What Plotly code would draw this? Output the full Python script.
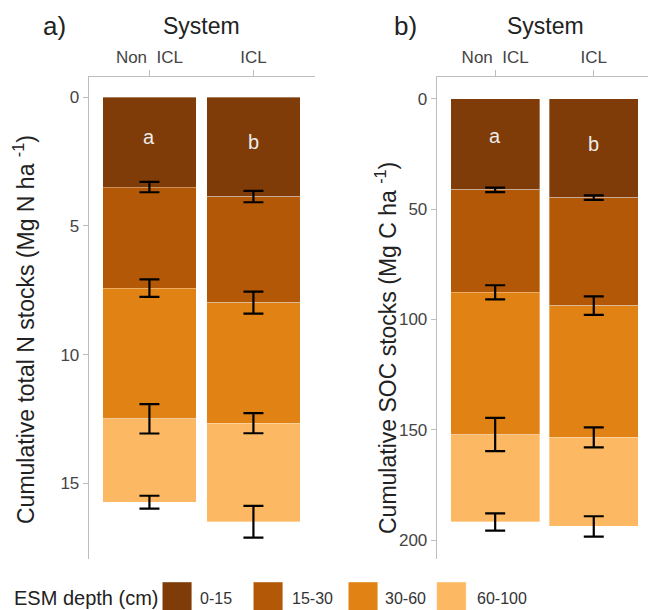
import numpy as np
import plotly.graph_objects as go

W, H = 648, 610

systems = ["Non ICL", "ICL"]
system_ticktext = ["Non\u00a0\u00a0ICL", "ICL"]
depths = ["0-15", "15-30", "30-60", "60-100"]
depth_colors = ["#7f3b08", "#b35806", "#e08214", "#fdb863"]

# Cumulative stocks at the bottom of each layer
n_cum_nonicl = [3.49, 7.42, 12.50, 15.74]
n_cum_icl = [3.86, 7.98, 12.67, 16.50]
n_err_nonicl = [0.20, 0.34, 0.57, 0.25]
n_err_icl = [0.22, 0.43, 0.39, 0.62]

c_cum_nonicl = [41.3, 87.7, 152.1, 191.7]
c_cum_icl = [44.8, 93.7, 153.4, 193.7]
c_err_nonicl = [1.0, 3.2, 7.5, 3.9]
c_err_icl = [1.0, 4.2, 4.5, 4.6]

letters = ["a", "b"]

FONT = "Liberation Sans, Arial, sans-serif"
AXIS_GRAY = "#bdbdbd"
TICK_TXT = "#444444"


def px_x(p):
    return p / W


def px_y(p):
    return 1 - p / H


fig = go.Figure()


def add_panel(cum_a, cum_b, err_a, err_b, xa, ya):
    inc_a = np.diff([0] + cum_a)
    inc_b = np.diff([0] + cum_b)
    for i, d in enumerate(depths):
        fig.add_trace(go.Bar(
            x=systems, y=[inc_a[i], inc_b[i]], name=d,
            marker=dict(color=depth_colors[i],
                        line=dict(color="rgba(255,255,255,0.35)", width=1)),
            width=0.9,
            xaxis=xa, yaxis=ya, showlegend=False, hoverinfo="skip"))
    # error bars drawn on top at the cumulative layer boundaries
    for i in range(len(depths)):
        fig.add_trace(go.Scatter(
            x=systems, y=[cum_a[i], cum_b[i]], mode="markers",
            marker=dict(size=1, opacity=0),
            error_y=dict(type="data", array=[err_a[i], err_b[i]],
                         visible=True, color="black", thickness=2.2, width=10),
            xaxis=xa, yaxis=ya, showlegend=False, hoverinfo="skip"))


add_panel(n_cum_nonicl, n_cum_icl, n_err_nonicl, n_err_icl, "x", "y")
add_panel(c_cum_nonicl, c_cum_icl, c_err_nonicl, c_err_icl, "x2", "y2")

ydom = [px_y(559.3), px_y(77)]

xcommon = dict(side="top", showline=True, linecolor=AXIS_GRAY, linewidth=1,
               ticks="outside", ticklen=6, tickcolor=AXIS_GRAY,
               tickfont=dict(size=17, color=TICK_TXT, family=FONT),
               tickvals=systems, ticktext=system_ticktext, showgrid=False,
               zeroline=False, type="category")
ycommon = dict(showline=True, linecolor=AXIS_GRAY, linewidth=1,
               ticks="outside", ticklen=5, tickcolor=AXIS_GRAY,
               tickfont=dict(size=17, color=TICK_TXT, family=FONT),
               showgrid=False, zeroline=False, domain=ydom)

fig.update_layout(
    width=W, height=H, barmode="stack",
    margin=dict(l=0, r=0, t=0, b=0),
    paper_bgcolor="white", plot_bgcolor="white",
    font=dict(family=FONT, color="#222222"),
    xaxis=dict(domain=[px_x(88.7), px_x(315)], range=[-0.584, 1.592],
               anchor="y", **xcommon),
    yaxis=dict(range=[17.96, -0.79], tickvals=[0, 5, 10, 15], anchor="x",
               **ycommon),
    xaxis2=dict(domain=[px_x(436.7), 1.0], range=[-0.593, 1.55],
                anchor="y2", **xcommon),
    yaxis2=dict(range=[208.6, -9.8], tickvals=[0, 50, 100, 150, 200],
                anchor="x2", **ycommon),
)

ann = []
# panel letters
ann.append(dict(text="a)", x=px_x(54), y=px_y(26), xref="paper", yref="paper",
                showarrow=False, font=dict(size=26, color="#222"),
                xanchor="center", yanchor="middle"))
ann.append(dict(text="b)", x=px_x(405), y=px_y(26), xref="paper", yref="paper",
                showarrow=False, font=dict(size=26, color="#222"),
                xanchor="center", yanchor="middle"))
# System titles
for cx in (201, 545):
    ann.append(dict(text="System", x=px_x(cx), y=px_y(26), xref="paper",
                    yref="paper", showarrow=False,
                    font=dict(size=23, color="#222"),
                    xanchor="center", yanchor="middle"))
# y titles
ann.append(dict(text="Cumulative total N stocks (Mg N ha <sup>-1</sup>)",
                x=px_x(24), y=px_y(330), xref="paper", yref="paper",
                textangle=-90, showarrow=False,
                font=dict(size=23, color="#222"),
                xanchor="center", yanchor="middle"))
ann.append(dict(text="Cumulative SOC stocks (Mg C ha <sup>-1</sup>)",
                x=px_x(386), y=px_y(348), xref="paper", yref="paper",
                textangle=-90, showarrow=False,
                font=dict(size=23, color="#222"),
                xanchor="center", yanchor="middle"))
# significance letters
for xa, ya, ys in (("x", "y", [1.55, 1.75]), ("x2", "y2", [17.1, 20.6])):
    for i, s in enumerate(systems):
        ann.append(dict(text=letters[i], x=s, y=ys[i], xref=xa, yref=ya,
                        showarrow=False, font=dict(size=20, color="#ececec"),
                        xanchor="center", yanchor="middle"))

# legend (manual)
ann.append(dict(text="ESM depth (cm)", x=px_x(12), y=px_y(598), xref="paper",
                yref="paper", showarrow=False, xanchor="left",
                yanchor="middle", font=dict(size=20, color="#222")))
sw_x = [162.3, 253.3, 348.3, 436.7]
lab_x = [198, 290, 383, 475]
shapes = []
for i, d in enumerate(depths):
    shapes.append(dict(type="rect", xref="paper", yref="paper",
                       x0=px_x(sw_x[i]), x1=px_x(sw_x[i] + 29.5),
                       y0=px_y(612), y1=px_y(582),
                       fillcolor=depth_colors[i],
                       line=dict(color="rgba(255,255,255,0.4)", width=1)))
    ann.append(dict(text=d, x=px_x(lab_x[i]), y=px_y(598), xref="paper",
                    yref="paper", showarrow=False, xanchor="left",
                    yanchor="middle", font=dict(size=16, color="#333")))

fig.update_layout(annotations=ann, shapes=shapes)
fig.write_html("out.html", config={"displayModeBar": False},
               post_script="document.body.style.margin='0';"
                           "document.body.style.overflow='hidden';")
